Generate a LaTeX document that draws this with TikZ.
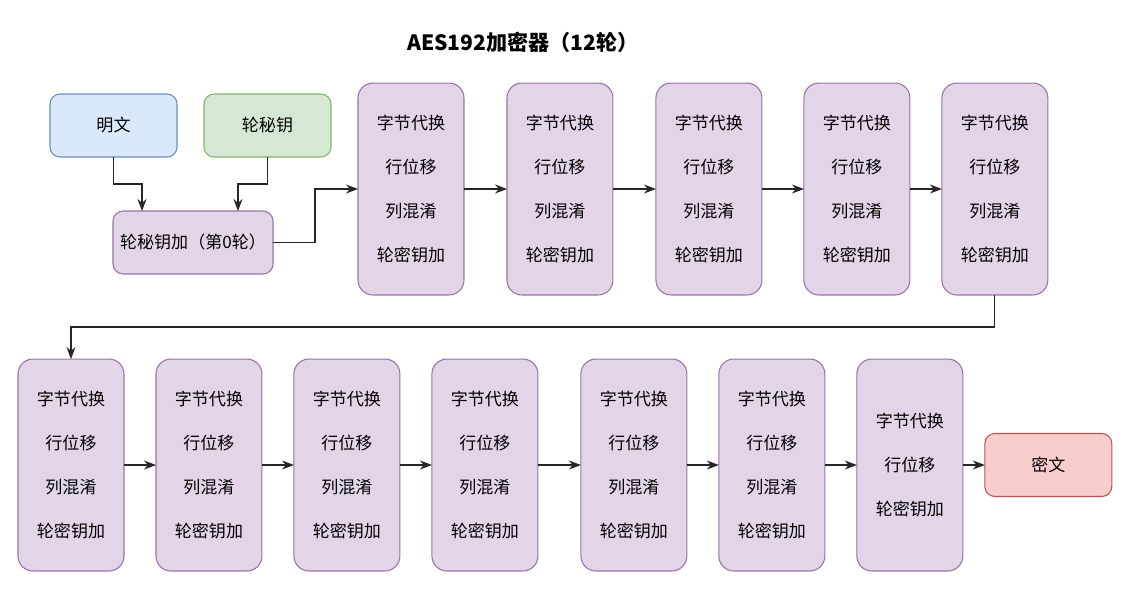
\documentclass[tikz,border=0pt]{standalone}
\usepackage{fontspec}
\setmainfont{Noto Sans CJK SC}
\usepackage{tikz}
\newcommand*{\fullround}{字节代换\\行位移\\列混淆\\轮密钥加}
\newcommand*{\lastround}{字节代换\\行位移\\轮密钥加}
\definecolor{blueFill}{HTML}{DAE8FC}
\definecolor{blueLine}{HTML}{6C8EBF}
\definecolor{greenFill}{HTML}{D5E8D4}
\definecolor{greenLine}{HTML}{82B366}
\definecolor{purpleFill}{HTML}{E1D5E7}
\definecolor{purpleLine}{HTML}{9673A6}
\definecolor{redFill}{HTML}{F8CECC}
\definecolor{redLine}{HTML}{B85450}
\usetikzlibrary{arrows.meta, positioning}
\tikzstyle{block} = [rectangle, rounded corners=0.2cm, line width=0.6pt, outer sep=0pt, font=\fontsize{9.7}{12}\selectfont, inner sep=2pt]
\tikzstyle{small} = [block, minimum width=2.54cm, minimum height=1.26cm]
\tikzstyle{plain} = [draw=blueLine, fill=blueFill, small]
\tikzstyle{key} = [draw=greenLine, fill=greenFill, small]
\tikzstyle{init} = [draw=purpleLine, fill=purpleFill, small, minimum width=3.2cm]
\tikzstyle{cipher} = [draw=redLine, fill=redFill, small]
\tikzstyle{round} = [draw=purpleLine, fill=purpleFill, block, rounded corners=0.3cm, minimum width=2.12cm, minimum height=4.24cm, align=center, font=\fontsize{9.7}{25}\selectfont]
\tikzstyle{title} = [font=\fontsize{12}{14}\selectfont\bfseries]
\tikzstyle{path} = [-{Stealth[length=2.4mm, width=1.8mm]}, line width=0.6pt, black!85]

\begin{document}
\begin{tikzpicture}[x=0.02cm, y=-0.02cm]
    \useasboundingbox (0,0) rectangle (1140,593);

    % Title.
    \node (heading) [title] at (523,42) {AES192加密器（12轮）};

    % Inputs.
    \node (plaintext) [plain] at (113.5,125.5) {明文};
    \node (roundkey) [key] at (267.5,125.5) {轮秘钥};
    \node (init) [init] at (193,242.5) {轮秘钥加（第0轮）};

    % Rounds, first row.
    \node (round1) [round] at (411,189) {\fullround};
    \foreach\i/\j/\d in {1/2/0.86cm, 2/3/0.86cm, 3/4/0.84cm, 4/5/0.64cm} {
        \node (round\j) [round, right=\d of round\i] {\fullround};
    }

    % Rounds, second row.
    \node (round6) [round] at (71,465) {\fullround};
    \foreach\i/\j/\d in {6/7/0.64cm, 7/8/0.64cm, 8/9/0.64cm, 9/10/0.86cm, 10/11/0.64cm} {
        \node (round\j) [round, right=\d of round\i] {\fullround};
    }
    \node (round12) [round, right=0.64cm of round11] {\lastround};
    \node (ciphertext) [cipher, right=0.44cm of round12] {密文};

    % Arrows.
    \draw [path] (plaintext.south) -- ++(0,27) -| ([xshift=0.58cm]init.north west);
    \draw [path] (roundkey.south) -- ++(0,27) -| ([xshift=-0.7cm]init.north east);
    \draw [path] (init.east) -- ++(42,0) |- (round1.west);
    \draw [path] (round5.south) -- ++(0,32) -| (round6.north);

    \foreach\i/\j in {1/2, 2/3, 3/4, 4/5, 6/7, 7/8, 8/9, 9/10, 10/11, 11/12} {
        \draw [path] (round\i) -- (round\j);
    }
    \draw [path] (round12) -- (ciphertext);
\end{tikzpicture}
\end{document}
